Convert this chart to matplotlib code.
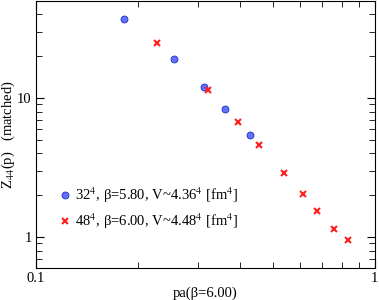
import matplotlib
matplotlib.use('Agg')
import matplotlib.pyplot as plt
from matplotlib.ticker import LogLocator, NullFormatter, FixedLocator, FixedFormatter

plt.rcParams['font.family'] = ['Liberation Serif', 'DejaVu Serif']
plt.rcParams['mathtext.fontset'] = 'stix'

# 32^4, beta=5.80
p_32 = [0.1818, 0.2553, 0.313, 0.3617, 0.4287]
z_32 = [37.1, 19.1, 12.1, 8.40, 5.41]

# 48^4, beta=6.00
p_48 = [0.2275, 0.321, 0.3936, 0.4540, 0.539, 0.6133, 0.676, 0.757, 0.832]
z_48 = [24.7, 11.5, 6.78, 4.60, 2.89, 2.04, 1.535, 1.152, 0.945]

fig = plt.figure(figsize=(3.79, 3.0), dpi=100)
ax = fig.add_axes([0.095, 0.107, 0.894, 0.89])

ax.plot(p_32, z_32, 'o', ms=5, mfc='#6070ff', mec='#2030c0', mew=0.6,
        label=r'32$^4$, β=5.80, V~4.36$^4$ [fm$^4$]')
ax.plot(p_48, z_48, 'x', ms=5, color='#ff2020', mew=1.5,
        label=r'48$^4$, β=6.00, V~4.48$^4$ [fm$^4$]')

ax.set_xscale('log')
ax.set_yscale('log')
ax.set_xlim(0.1, 1)
ax.set_ylim(0.6, 50)

ax.xaxis.set_major_locator(FixedLocator([0.1, 1]))
ax.xaxis.set_major_formatter(FixedFormatter(['0.1', '1']))
ax.xaxis.set_minor_locator(LogLocator(base=10, subs=range(2, 10)))
ax.xaxis.set_minor_formatter(NullFormatter())
ax.yaxis.set_major_locator(FixedLocator([1, 10]))
ax.yaxis.set_major_formatter(FixedFormatter(['1', '10']))
ax.yaxis.set_minor_locator(LogLocator(base=10, subs=range(2, 10)))
ax.yaxis.set_minor_formatter(NullFormatter())

ax.tick_params(which='both', direction='in', top=True, right=True, labelsize=10.5)
ax.tick_params(which='major', length=6)
ax.tick_params(which='minor', length=4)
ax.tick_params(axis='x', pad=3)
ax.tick_params(axis='y', pad=3)

ax.set_xlabel('pa(β=6.00)', fontsize=10.5, labelpad=1)
ax.set_ylabel(r'Z$_{44}$(p)   (matched)', fontsize=10.5, labelpad=0)

ax.legend(loc='lower left', bbox_to_anchor=(0.025, 0.09), frameon=False,
          fontsize=10.5, handletextpad=0.2, labelspacing=0.4, handlelength=1.0)

fig.savefig('out.png', dpi=100)
